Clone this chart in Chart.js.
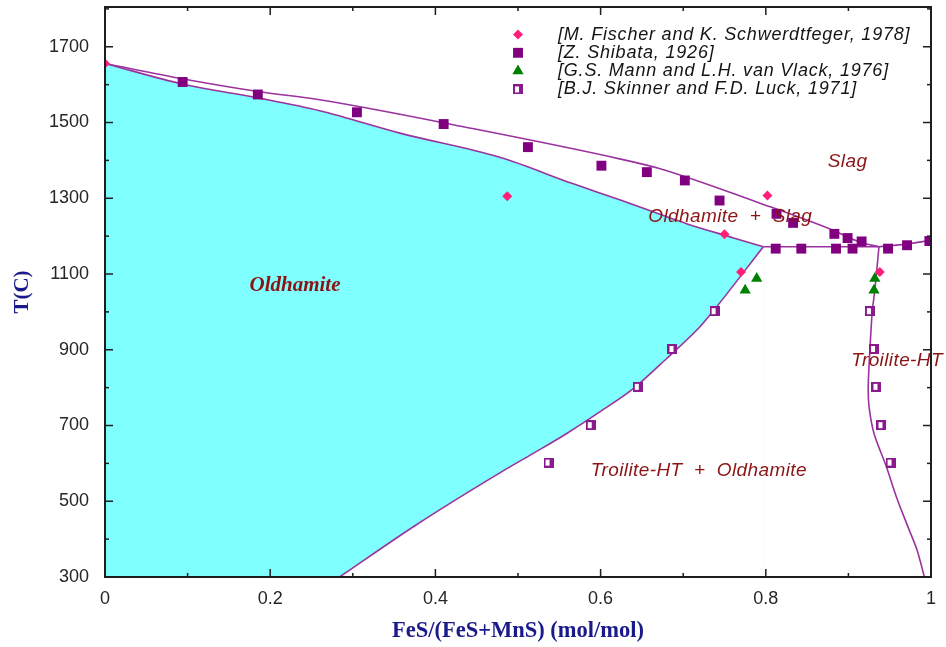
<!DOCTYPE html>
<html>
<head>
<meta charset="utf-8">
<title>FeS–MnS phase diagram</title>
<script src="https://cdn.jsdelivr.net/npm/chart.js@4.4.0/dist/chart.umd.min.js"></script>
<style>
  html, body { margin: 0; padding: 0; background: #ffffff; }
  canvas { display: block; }
</style>
</head>
<body>
<canvas id="phase" width="946" height="647"></canvas>
<script>
// ---- Axes ----
const xMin = 0, xMax = 1;
const yMin = 300, yMax = 1805;
const xMajorTicks = [0, 0.2, 0.4, 0.6, 0.8, 1];
const xMinorTicks = [0.1, 0.3, 0.5, 0.7, 0.9];
const xTickLabels = ['0', '0.2', '0.4', '0.6', '0.8', '1'];
const yMajorTicks = [300, 500, 700, 900, 1100, 1300, 1500, 1700];
const yMinorTicks = [400, 600, 800, 1000, 1200, 1400, 1600, 1800];
const yTickLabels = ['300', '500', '700', '900', '1100', '1300', '1500', '1700'];

// ---- Calculated phase boundaries (x = FeS/(FeS+MnS), T in °C) ----
const liquidusX = [0, 0.095, 0.185, 0.260, 0.438, 0.623, 0.672, 0.793, 0.882, 0.914, 0.937];
const liquidusT = [1656, 1615, 1582, 1560, 1487, 1404, 1378, 1287, 1215, 1184, 1172];

const solidusX = [0, 0.095, 0.185, 0.260, 0.357, 0.478, 0.567, 0.623, 0.704, 0.760, 0.797];
const solidusT = [1656, 1601, 1565, 1531, 1472, 1408, 1338, 1296, 1233, 1196, 1172];

// MnS-rich solvus, listed from the bottom axis up to the eutectic
const oldhamiteSolvusX = [0.284, 0.377, 0.478, 0.519, 0.559, 0.599, 0.640, 0.680, 0.720, 0.737, 0.797];
const oldhamiteSolvusT = [300, 438, 575, 627, 679, 736, 798, 877, 960, 1004, 1172];

const eutecticX = [0.797, 0.937];
const eutecticT = [1172, 1172];

const fesLiquidusX = [0.937, 0.970, 1];
const fesLiquidusT = [1172, 1179, 1189];

const troiliteSolvusX = [0.937, 0.932, 0.929, 0.926, 0.924, 0.925, 0.931, 0.946, 0.958, 0.972, 0.983, 0.992];
const troiliteSolvusT = [1172, 1057, 1004, 899, 802, 750, 679, 591, 512, 433, 372, 300];

// ---- Experimental points ----
const fischerX = [0, 0.487, 0.750, 0.770, 0.802, 0.938];
const fischerT = [1656, 1305, 1205, 1105, 1307, 1105];

const shibataX = [0.094, 0.185, 0.305, 0.410, 0.512, 0.601, 0.656, 0.702, 0.744, 0.813, 0.833, 0.883, 0.899, 0.916,
                  0.812, 0.843, 0.885, 0.905, 0.948, 0.971, 0.998];
const shibataT = [1607, 1574, 1527, 1496, 1435, 1386, 1369, 1347, 1294, 1259, 1235, 1206, 1195, 1186,
                  1167, 1167, 1167, 1167, 1167, 1176, 1187];

const mannX = [0.775, 0.789, 0.932, 0.931];
const mannT = [1057, 1088, 1088, 1057];

const skinnerX = [0.738, 0.687, 0.645, 0.588, 0.537, 0.926, 0.931, 0.934, 0.940, 0.951];
const skinnerT = [1002, 902, 802, 701, 602, 1002, 902, 802, 701, 602];

const sourceLabels = [
  '[M. Fischer and K. Schwerdtfeger, 1978]',
  '[Z. Shibata, 1926]',
  '[G.S. Mann and L.H. van Vlack, 1976]',
  '[B.J. Skinner and F.D. Luck, 1971]'
];

// Phase-field names, anchored in data coordinates
const phaseNames = ['Oldhamite', 'Slag', 'Oldhamite  +  Slag', 'Troilite-HT', 'Troilite-HT  +  Oldhamite'];
const phaseNameX = [0.230, 0.899, 0.757, 0.959, 0.719];
const phaseNameT = [1070, 1397, 1250, 870, 581];

// ---- Helpers ----
const pts = (xs, ys) => xs.map((v, i) => ({ x: v, y: ys[i] }));

const LINE = '#9b339f';
const FILL = '#80ffff';
const LABEL_RED = '#8b1414';

function halfOpenSquare(size, color) {
  const c = document.createElement('canvas');
  c.width = size; c.height = size;
  const g = c.getContext('2d');
  g.fillStyle = color;
  g.fillRect(0, 0, size, size);
  g.fillStyle = '#ffffff';
  g.fillRect(2, 2, Math.floor(size / 2) - 1, size - 4);
  return c;
}
const skinnerMark = halfOpenSquare(10, '#8a1a8e');

// A boundary curve; x-monotone curves use monotone cubic smoothing
function boundary(data, extra) {
  return Object.assign({
    data, showLine: true, pointRadius: 0, borderColor: LINE, borderWidth: 1.6,
    fill: false, cubicInterpolationMode: 'monotone', order: 5, borderJoinStyle: 'round'
  }, extra || {});
}

const markerSets = [
  { data: pts(fischerX, fischerT), pointStyle: 'rectRot', pointRadius: 5, pointBackgroundColor: '#ff1f78' },
  { data: pts(shibataX, shibataT), pointStyle: 'rect', pointRadius: 7, pointBackgroundColor: '#800080' },
  { data: pts(mannX, mannT), pointStyle: 'triangle', pointRadius: 6.5, pointBackgroundColor: '#008000' },
  { data: pts(skinnerX, skinnerT), pointStyle: skinnerMark, pointRadius: 5, pointBackgroundColor: '#8a1a8e' }
].map(d => Object.assign({ showLine: false, pointBorderWidth: 0, order: 0, pointHoverRadius: 0 }, d));

// ---- Plugins ----
const frameAndTicks = {
  id: 'frameAndTicks',
  afterDatasetsDraw(chart) {
    const { ctx, chartArea: a, scales: { x, y } } = chart;
    ctx.save();
    ctx.strokeStyle = '#1e1e1e';
    ctx.lineWidth = 1.5;
    const seg = (x1, y1, x2, y2) => { ctx.beginPath(); ctx.moveTo(x1, y1); ctx.lineTo(x2, y2); ctx.stroke(); };
    const xt = (vals, len) => vals.forEach(v => {
      const p = x.getPixelForValue(v);
      seg(p, a.bottom, p, a.bottom - len);
      seg(p, a.top, p, a.top + len);
    });
    const yt = (vals, len) => vals.forEach(v => {
      const p = y.getPixelForValue(v);
      seg(a.left, p, a.left + len, p);
      seg(a.right, p, a.right - len, p);
    });
    xt(xMajorTicks, 8); xt(xMinorTicks, 4);
    yt(yMajorTicks, 8); yt(yMinorTicks, 4);
    ctx.lineWidth = 2;
    ctx.strokeRect(a.left, a.top, a.right - a.left, a.bottom - a.top);
    ctx.restore();
  }
};

const phaseLabels = {
  id: 'phaseLabels',
  afterDatasetsDraw(chart) {
    const { ctx, scales: { x, y } } = chart;
    ctx.save();
    ctx.fillStyle = LABEL_RED;
    ctx.textAlign = 'center';
    ctx.textBaseline = 'middle';
    phaseNames.forEach((t, i) => {
      if (i === 0) {
        ctx.font = 'italic bold 21px "Liberation Serif", "Times New Roman", serif';
        ctx.letterSpacing = '0px';
      } else {
        ctx.font = 'italic 19px "Liberation Sans", Arial, sans-serif';
        ctx.letterSpacing = '0.4px';
      }
      ctx.fillText(t, x.getPixelForValue(phaseNameX[i]), y.getPixelForValue(phaseNameT[i]));
    });
    ctx.restore();
  }
};

const sourceLegend = {
  id: 'sourceLegend',
  afterDraw(chart) {
    const { ctx, chartArea: a } = chart;
    const mx = a.right - 413, tx = a.right - 373;
    const y0 = a.top + 27.5, step = 18.3;
    ctx.save();
    ctx.font = 'italic 18px "Liberation Sans", Arial, sans-serif';
    ctx.letterSpacing = '0.8px';
    ctx.textAlign = 'left';
    ctx.textBaseline = 'middle';
    markerSets.forEach((ds, i) => {
      const cy = y0 + i * step;
      ctx.fillStyle = ds.pointBackgroundColor;
      Chart.helpers.drawPoint(ctx, { pointStyle: ds.pointStyle, radius: ds.pointRadius, rotation: 0, borderWidth: 0 }, mx, cy);
      ctx.fillStyle = '#141414';
      ctx.fillText(sourceLabels[i], tx, cy);
    });
    ctx.restore();
  }
};

// ---- Chart ----
const tickFont = { family: '"Liberation Sans", Arial, sans-serif', size: 18 };
const titleFont = { family: '"Liberation Serif", "Times New Roman", serif', size: 21, weight: 'bold' };

new Chart(document.getElementById('phase'), {
  type: 'scatter',
  data: {
    datasets: [
      ...markerSets,
      boundary(pts(liquidusX, liquidusT)),
      boundary(pts(eutecticX, eutecticT)),
      boundary(pts(fesLiquidusX, fesLiquidusT)),
      boundary(pts(troiliteSolvusX, troiliteSolvusT), { cubicInterpolationMode: 'default', tension: 0.3 }),
      // Oldhamite field: everything under the solidus is shaded, then the region
      // under the solvus (the two-phase field below) is cleared again
      boundary(pts(oldhamiteSolvusX, oldhamiteSolvusT), { fill: 'start', backgroundColor: '#ffffff', order: 9 }),
      boundary(pts(solidusX, solidusT), { fill: 'start', backgroundColor: FILL, order: 10 })
    ]
  },
  options: {
    responsive: false,
    animation: false,
    events: [],
    layout: { padding: { top: 6, right: 15, left: 0, bottom: 0 } },
    plugins: { legend: { display: false }, tooltip: { enabled: false } },
    scales: {
      x: {
        type: 'linear', min: xMin, max: xMax,
        grid: { display: false, drawTicks: false },
        border: { display: false },
        afterBuildTicks: s => { s.ticks = xMajorTicks.map(v => ({ value: v })); },
        ticks: {
          font: tickFont, color: '#262626', padding: 11, maxRotation: 0, autoSkip: false,
          callback: (v, i) => xTickLabels[i]
        },
        title: { display: true, text: 'FeS/(FeS+MnS) (mol/mol)', color: '#1a1a8a', font: Object.assign({}, titleFont, { size: 22.5 }), padding: { top: 0, bottom: 2 } },
        afterFit: s => { s.height = 70; s.paddingLeft = 0; s.paddingRight = 0; }
      },
      y: {
        type: 'linear', min: yMin, max: yMax,
        grid: { display: false, drawTicks: false },
        border: { display: false },
        afterBuildTicks: s => { s.ticks = yMajorTicks.map(v => ({ value: v })); },
        ticks: {
          font: tickFont, color: '#262626', padding: 16, autoSkip: false,
          callback: (v, i) => yTickLabels[i]
        },
        title: { display: true, text: 'T(C)', color: '#1a1a8a', font: titleFont, padding: { top: 10, bottom: 0 } },
        afterFit: s => { s.width = 105; s.paddingTop = 0; s.paddingBottom = 0; }
      }
    }
  },
  plugins: [frameAndTicks, phaseLabels, sourceLegend]
});
</script>
</body>
</html>
